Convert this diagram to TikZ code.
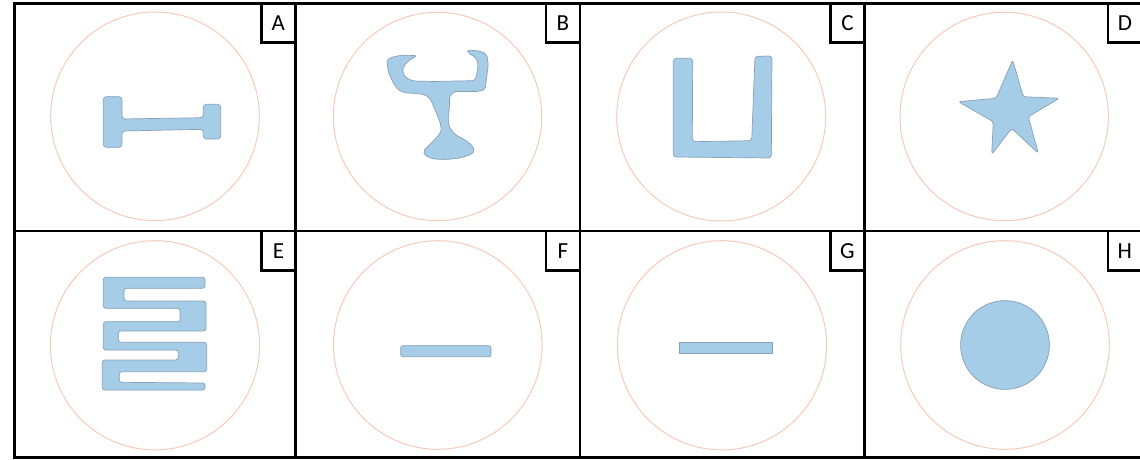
\documentclass[tikz,border=0pt]{standalone}
\usepackage{fontspec}
\setmainfont{Carlito}
\definecolor{ringc}{RGB}{245,202,184}
\definecolor{shapefill}{RGB}{166,205,231}
\definecolor{shapeline}{RGB}{135,158,182}
\begin{document}
\begin{tikzpicture}[x=1pt,y=-1pt,
  panel/.style={draw=black,line width=2.6pt},
  ring/.style={draw=ringc,line width=1pt},
  blob/.style={fill=shapefill,draw=shapeline,line width=0.7pt,line join=round},
  tag/.style={draw=black,line width=2.6pt,minimum width=34.2pt,minimum height=39.3pt,
    inner sep=0pt,outer sep=0pt,anchor=north east,font=\fontsize{23}{27}\selectfont}]
\useasboundingbox (0,0) rectangle (1140,460);
% panels
\draw[panel] (14.5,3.5) rectangle (295.5,231);
\draw[panel] (295.5,3.5) rectangle (580,231);
\draw[panel] (580,3.5) rectangle (864.5,231);
\draw[panel] (864.5,3.5) rectangle (1142,231);
\draw[panel] (14.5,231) rectangle (295.5,457.5);
\draw[panel] (295.5,231) rectangle (580,457.5);
\draw[panel] (580,231) rectangle (864.5,457.5);
\draw[panel] (864.5,231) rectangle (1142,457.5);
% tags
\node[tag] (tagA) at (295.5,3.5) {A};
\node[tag] (tagB) at (580,3.5) {B};
\node[tag] (tagC) at (864.5,3.5) {C};
\node[tag] (tagD) at (1142,3.5) {D};
\node[tag] (tagE) at (295.5,231) {E};
\node[tag] (tagF) at (580,231) {F};
\node[tag] (tagG) at (864.5,231) {G};
\node[tag] (tagH) at (1142,231) {H};
% rings
\draw[ring] (155,116.3) circle[radius=104.3];
\draw[ring] (437.5,116.5) circle[radius=104.2];
\draw[ring] (721.2,116.5) circle[radius=104.5];
\draw[ring] (1004.2,116.5) circle[radius=104.2];
\draw[ring] (155,345.3) circle[radius=104.6];
\draw[ring] (437.8,345) circle[radius=104.3];
\draw[ring] (722,345.3) circle[radius=104.6];
\draw[ring] (1005,345) circle[radius=104.3];
% A: I-beam
\draw[blob,rounded corners=3pt] (103.3,96.7) -- (122,96.7) -- (122,119) -- (203.3,117.7)
  -- (203.3,104.3) -- (220.7,104.3) -- (220.7,139) -- (203.3,139) -- (203.3,129.3)
  -- (122,131) -- (122,147.3) -- (103.3,147.3) -- cycle;
% B: goblet
\draw[blob,rounded corners=2pt] (386.7,60) -- (393.3,56.7) -- (403.3,55) -- (416.7,55.7)
  -- (408.3,61) -- (403.3,66.7) -- (402.7,73.3) -- (406.7,78.3) -- (413.3,81) -- (433.3,81.5)
  -- (456.7,81) -- (475,80.7) -- (476.7,75) -- (478.3,63.3) -- (475,56.7) -- (468.3,53.3)
  -- (467.3,50) -- (480,51) -- (486.7,54.3) -- (488.3,65) -- (486.7,76.7) -- (485,89.5)
  -- (478.3,91.5) -- (454,91.5) -- (449.5,96) -- (449.5,105) -- (448.5,117)
  -- (449,127) -- (455,134.5) -- (466,140.5) -- (472.5,146) -- (474.5,151) -- (471,154.5)
  -- (460,158) -- (446.7,159.5) -- (433.3,159) -- (425,155.5) -- (423.3,151) -- (428.3,146)
  -- (436.7,137.5) -- (441.7,130.5) -- (440,122) -- (436.7,113.5) -- (433.3,106) -- (430.5,99)
  -- (425.5,94.8) -- (416.7,93.5) -- (405,92.8) -- (398.3,90) -- (393.3,83) -- (388.3,72)
  -- cycle;
% C: U shape
\draw[blob,rounded corners=3pt] (673.3,58.3) -- (692.7,58.3) -- (692.3,141.7) -- (751.7,140.7)
  -- (755,56.3) -- (772,56) -- (771.3,158) -- (673.3,157) -- cycle;
% D: star
\draw[blob,rounded corners=2.5pt] (1012.7,60) -- (1023.3,96.7) -- (1059.3,98.3) -- (1028.3,116.7)
  -- (1038.3,153.3) -- (1011.7,128.3) -- (991.7,154.3) -- (993.3,121.7) -- (958.3,101.7)
  -- (996,98.3) -- cycle;
% E: meander
\draw[blob,rounded corners=2.5pt] (103.3,277.3) -- (205,277.3) -- (205,288.3) -- (124,288.3)
  -- (124,301) -- (206,301) -- (206,331) -- (118.3,331) -- (118.3,342.3) -- (206.7,342.3)
  -- (206.7,371.7) -- (119.3,371.7) -- (119.3,382.3) -- (205,383) -- (205,390) -- (102.3,390)
  -- (102.3,360) -- (178.3,360) -- (178.3,350) -- (103.3,350) -- (103.3,321.7) -- (180,321.7)
  -- (180,308.3) -- (103.3,308.3) -- cycle;
% F: rounded bar
\draw[blob,rounded corners=2pt] (400.7,345.7) rectangle (491,356.7);
% G: bar
\draw[blob] (679.3,342.3) rectangle (772,353);
% H: disc
\draw[blob] (1005,345) circle[radius=44.4];
\end{tikzpicture}
\end{document}
